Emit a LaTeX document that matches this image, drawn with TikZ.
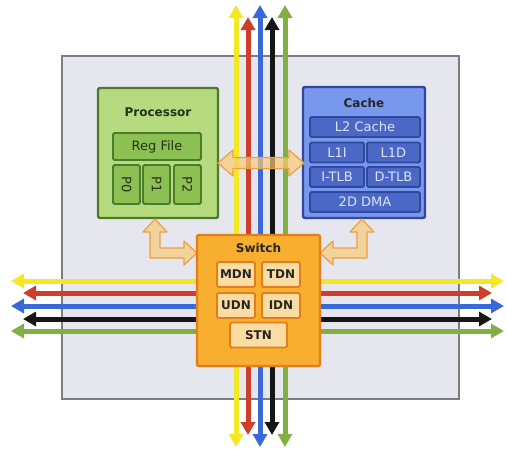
\documentclass[tikz,border=0pt]{standalone}
\usepackage{fontspec}
\setmainfont{DejaVu Sans}
\usetikzlibrary{arrows.meta, positioning}

\definecolor{tilebg}{HTML}{E6E6EE}
\definecolor{tileedge}{HTML}{7C7C84}
\definecolor{procfill}{HTML}{B6DA7E}
\definecolor{procedge}{HTML}{4E7A2C}
\definecolor{procpart}{HTML}{8DC052}
\definecolor{proctext}{HTML}{23321A}
\definecolor{cachefill}{HTML}{7898EE}
\definecolor{cacheedge}{HTML}{30489E}
\definecolor{cachepart}{HTML}{4C68C6}
\definecolor{cachetext}{HTML}{DCE3FF}
\definecolor{swfill}{HTML}{F8AE2E}
\definecolor{swedge}{HTML}{E47E1C}
\definecolor{swpart}{HTML}{FBDCA2}
\definecolor{linkfill}{HTML}{F7CB78}
\definecolor{linkedge}{HTML}{EEA040}
\definecolor{busyellow}{HTML}{F4E824}
\definecolor{busred}{HTML}{CE3E2A}
\definecolor{busblue}{HTML}{3A68D8}
\definecolor{busblack}{HTML}{161616}
\definecolor{busgreen}{HTML}{80B042}

\begin{document}
\begin{tikzpicture}[x=1pt, y=-1pt,
    unit/.style={draw, line width=2.4pt, rounded corners=2pt},
    part/.style={draw, line width=1.8pt, rounded corners=1.5pt, inner sep=0pt, font=\fontsize{13}{14}\selectfont},
    title/.style={font=\bfseries\fontsize{12}{14}\selectfont},
    bus/.style={line width=5pt, {Triangle[width=14pt,length=13pt]}-{Triangle[width=14pt,length=13pt]}},
    link/.style={draw=linkedge, fill=linkfill, fill opacity=0.7, line width=1.2pt, line join=round}
]
    \useasboundingbox (0,0) rectangle (507,451);

    % Tile
    \node[draw=tileedge, fill=tilebg, line width=2pt, minimum width=397, minimum height=343] (tile) at (260.5,227.5) {};

    % Vertical and horizontal networks
    \foreach \col/\x/\e in {busyellow/236/0, busred/248/12, busblue/260/0, busblack/272/12, busgreen/285/0} {
        \coordinate (\col N) at (\x,5+\e);
        \coordinate (\col S) at (\x,447-\e);
        \draw[bus, draw=\col, fill=\col] (\col N) -- (\col S);
    }
    \foreach \col/\y/\e in {busyellow/281/0, busred/293/12, busblue/306/0, busblack/319/12, busgreen/331/0} {
        \coordinate (\col W) at (11+\e,\y);
        \coordinate (\col E) at (504-\e,\y);
        \draw[bus, draw=\col, fill=\col] (\col W) -- (\col E);
    }

    % Processor
    \node[unit, draw=procedge, fill=procfill, minimum width=120, minimum height=130] (proc) at (158,153) {};
    \node[title, text=proctext] (proctitle) at (158,112) {Processor};
    \node[part, draw=procedge, fill=procpart, text=proctext, minimum width=88, minimum height=27] (regfile) at (157,146.5) {Reg File};
    \foreach \i/\x in {0/126.5, 1/156.5, 2/187.5}
        \node[part, draw=procedge, fill=procpart, text=proctext, minimum width=39, minimum height=27, rotate=-90] (p\i) at (\x,184.5) {P\i};

    % Cache
    \node[unit, draw=cacheedge, fill=cachefill, minimum width=122, minimum height=131] (cache) at (364,152.5) {};
    \node[title, text=black!85] (cachetitle) at (364,103) {Cache};
    \tikzset{cpart/.style={part, draw=cacheedge, fill=cachepart, text=cachetext, minimum height=20}}
    \node[cpart, minimum width=110] (l2) at (365,127) {L2 Cache};
    \node[cpart, minimum width=54] (l1i) at (337,152.5) {L1I};
    \node[cpart, minimum width=53] (l1d) at (393.5,152.5) {L1D};
    \node[cpart, minimum width=54] (itlb) at (337,177) {I-TLB};
    \node[cpart, minimum width=53] (dtlb) at (393.5,177) {D-TLB};
    \node[cpart, minimum width=110] (dma) at (365,202) {2D DMA};

    % Links to the switch
    \draw[link] (218,163) -- (233,150) -- (233,157.5) -- (289,157.5) -- (289,150) -- (304,163)
        -- (289,176) -- (289,168.5) -- (233,168.5) -- (233,176) -- cycle;
    \draw[link] (155,219) -- (167,232) -- (160,232) -- (160,248) -- (184,248) -- (184,241) -- (197,253)
        -- (184,265) -- (184,258) -- (150,258) -- (150,232) -- (143,232) -- cycle;
    \draw[link] (362,219) -- (374,232) -- (367,232) -- (367,258) -- (333,258) -- (333,265) -- (320,253)
        -- (333,241) -- (333,248) -- (357,248) -- (357,232) -- (350,232) -- cycle;

    % Switch
    \node[unit, draw=swedge, fill=swfill, minimum width=123, minimum height=131] (switch) at (258.5,300.5) {};
    \node[title, text=black!85] (swtitle) at (258.5,248) {Switch};
    \tikzset{spart/.style={part, draw=swedge, fill=swpart, text=black!85, minimum height=25, font=\bfseries\fontsize{12}{13}\selectfont}}
    \node[spart, minimum width=38] (mdn) at (236,274.5) {MDN};
    \node[spart, minimum width=38] (tdn) at (281,274.5) {TDN};
    \node[spart, minimum width=38] (udn) at (236,305.5) {UDN};
    \node[spart, minimum width=38] (idn) at (281,305.5) {IDN};
    \node[spart, minimum width=57] (stn) at (258.5,335) {STN};
\end{tikzpicture}
\end{document}
